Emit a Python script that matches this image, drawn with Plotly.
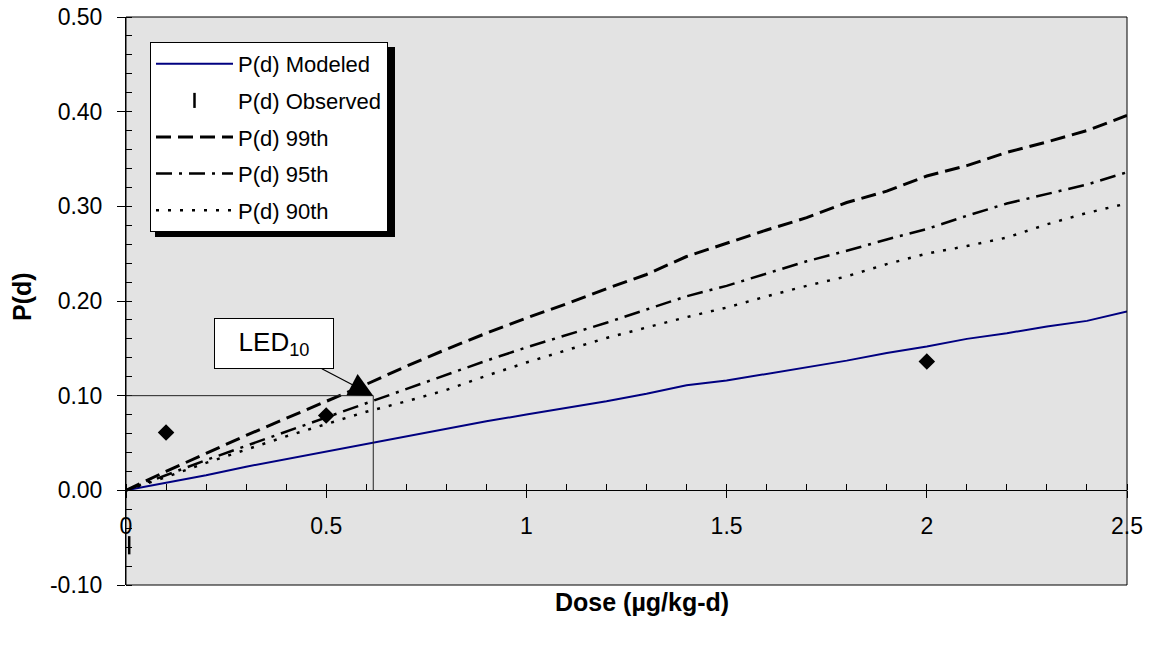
import plotly.graph_objects as go

# ---------------- data ----------------
dose = [0.0, 0.1, 0.2, 0.3, 0.4, 0.5, 0.6, 0.7, 0.8, 0.9, 1.0, 1.1, 1.2, 1.3,
        1.4, 1.5, 1.6, 1.7, 1.8, 1.9, 2.0, 2.1, 2.2, 2.3, 2.4, 2.5]
p_modeled = [0.000, 0.008, 0.016, 0.025, 0.033, 0.041, 0.049, 0.057, 0.065, 0.073,
             0.080, 0.087, 0.094, 0.102, 0.111, 0.116, 0.123, 0.130, 0.137, 0.145,
             0.152, 0.160, 0.166, 0.173, 0.179, 0.189]
p_99th = [0.000, 0.020, 0.039, 0.058, 0.076, 0.094, 0.112, 0.131, 0.149, 0.166,
          0.182, 0.197, 0.213, 0.228, 0.247, 0.261, 0.275, 0.288, 0.304, 0.316,
          0.332, 0.343, 0.357, 0.368, 0.380, 0.396]
p_95th = [0.000, 0.016, 0.032, 0.047, 0.062, 0.077, 0.092, 0.107, 0.122, 0.137,
          0.151, 0.164, 0.177, 0.191, 0.205, 0.216, 0.229, 0.242, 0.253, 0.265,
          0.276, 0.290, 0.303, 0.313, 0.323, 0.336]
p_90th = [0.000, 0.014, 0.029, 0.043, 0.057, 0.070, 0.083, 0.094, 0.106, 0.121,
          0.135, 0.148, 0.161, 0.172, 0.183, 0.193, 0.205, 0.216, 0.226, 0.239,
          0.250, 0.258, 0.267, 0.281, 0.293, 0.303]
obs_dose = [0.008, 0.1, 0.5, 2.0]
obs_p = [-0.058, 0.061, 0.079, 0.136]
obs_symbols = ["line-ns", "diamond", "diamond", "diamond"]
obs_sizes = [13, 10, 10, 10]

led10 = 0.6175
bmr = 0.10

x_range = [0, 2.5]
y_range = [-0.10, 0.50]
x_ticks = [0, 0.5, 1, 1.5, 2, 2.5]
x_ticklabels = ["0", "0.5", "1", "1.5", "2", "2.5"]
y_ticks = [-0.10, 0.00, 0.10, 0.20, 0.30, 0.40, 0.50]
y_ticklabels = ["-0.10", "0.00", "0.10", "0.20", "0.30", "0.40", "0.50"]

FONT = "Liberation Sans, Arial, sans-serif"

fig = go.Figure()
fig.add_trace(go.Scatter(x=dose, y=p_modeled, mode="lines", name="P(d) Modeled",
                         line=dict(color="#000080", width=2), legendgroup="a"))
fig.add_trace(go.Scatter(x=obs_dose, y=obs_p, mode="markers", name="P(d) Observed",
                         opacity=1, cliponaxis=False,
                         marker=dict(symbol=obs_symbols, size=obs_sizes, color="black", opacity=1,
                                     line=dict(color="black", width=2.5)),
                         legendgroup="b"))
fig.add_trace(go.Scatter(x=dose, y=p_99th, mode="lines", name="P(d) 99th",
                         line=dict(color="black", width=3, dash="15px,7px"), legendgroup="c"))
fig.add_trace(go.Scatter(x=dose, y=p_95th, mode="lines", name="P(d) 95th",
                         line=dict(color="black", width=2.5, dash="16px,7px,3px,7px"), legendgroup="d"))
fig.add_trace(go.Scatter(x=dose, y=p_90th, mode="lines", name="P(d) 90th",
                         line=dict(color="black", width=2.5, dash="3px,9px"), legendgroup="e"))

L, R, T, B = 126, 27, 17, 62
W, H = 1154, 647
pw = W - L - R
ph = H - T - B

def px_x(px):
    return (px - L) / pw

def px_y(py):
    return (H - B - py) / ph

shapes = [
    # LED10 guide lines
    dict(type="line", xref="x", yref="y", x0=0, x1=led10, y0=bmr, y1=bmr,
         line=dict(color="#222222", width=1)),
    dict(type="line", xref="x", yref="y", x0=led10, x1=led10, y0=bmr, y1=0,
         line=dict(color="#222222", width=1)),
    # plot frame
    dict(type="rect", xref="x domain", yref="y domain", x0=0, x1=1, y0=0, y1=1,
         line=dict(color="black", width=1), layer="above"),
    # legend shadow
    dict(type="rect", xref="paper", yref="paper",
         x0=px_x(155), x1=px_x(395), y0=px_y(237), y1=px_y(47),
         fillcolor="black", line=dict(width=0), layer="above"),
]

fig.update_layout(
    width=W, height=H,
    margin=dict(l=L, r=R, t=T, b=B, autoexpand=False),
    paper_bgcolor="white",
    plot_bgcolor="#E3E3E3",
    font=dict(family=FONT, size=22, color="black"),
    showlegend=True,
    legend=dict(x=px_x(150), y=px_y(42), xanchor="left", yanchor="top",
                bgcolor="white", bordercolor="black", borderwidth=1,
                font=dict(family=FONT, size=22, color="black"),
                itemwidth=77, tracegroupgap=5, traceorder="grouped"),
    shapes=shapes,
    xaxis=dict(range=x_range, anchor="free", position=(0 - y_range[0]) / (y_range[1] - y_range[0]),
               tickvals=x_ticks, ticktext=x_ticklabels, automargin=False,
               showgrid=False, zeroline=False, showline=True, linecolor="black", linewidth=1,
               ticks="outside", ticklen=7, tickcolor="black", tickwidth=1,
               ticklabelstandoff=8,
               minor=dict(dtick=0.1, ticks="inside", ticklen=6, tickcolor="black", showgrid=False),
               tickfont=dict(family=FONT, size=23, color="black")),
    yaxis=dict(range=y_range, tickvals=y_ticks, ticktext=y_ticklabels, automargin=False,
               showgrid=False, zeroline=False, showline=True, linecolor="black", linewidth=1,
               ticks="outside", ticklen=8, tickcolor="black", tickwidth=1,
               ticklabelstandoff=10,
               minor=dict(dtick=0.02, tick0=0, ticks="inside", ticklen=6, tickcolor="black", showgrid=False),
               tickfont=dict(family=FONT, size=23, color="black")),
    annotations=[
        dict(text="<b>Dose (µg/kg-d)</b>", xref="paper", yref="paper",
             x=px_x(642), y=px_y(602), xanchor="center", yanchor="middle", showarrow=False,
             font=dict(family=FONT, size=25, color="black")),
        dict(text="<b>P(d)</b>", xref="paper", yref="paper",
             x=px_x(22), y=px_y(297), xanchor="center", yanchor="middle",
             showarrow=False, textangle=-90,
             font=dict(family=FONT, size=25, color="black")),
        dict(text="LED<sub>10</sub>", x=led10, y=bmr, xref="x", yref="y",
             ax=-99, ay=-52, showarrow=True, arrowhead=2, arrowsize=4,
             arrowwidth=1.2, arrowcolor="black",
             bgcolor="white", bordercolor="black", borderwidth=1,
             width=116, height=47,
             font=dict(family=FONT, size=26, color="black")),
    ],
)

fig.write_html("out.html", config={"displayModeBar": False},
               post_script="document.body.style.margin='0';")
